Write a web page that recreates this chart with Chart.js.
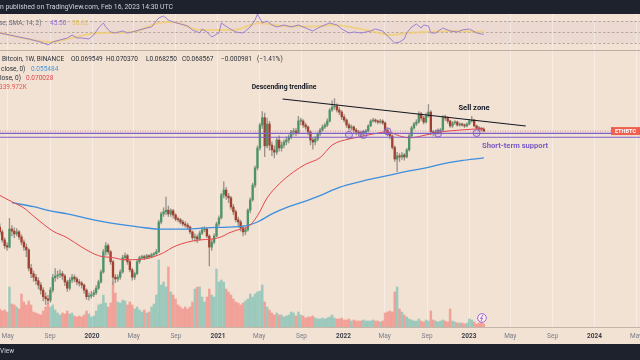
<!DOCTYPE html>
<html>
<head>
<meta charset="utf-8">
<script src="https://cdn.jsdelivr.net/npm/chart.js"></script>
<style>
  html, body { margin: 0; padding: 0; background: #1e222d; }
  canvas { display: block; }
</style>
</head>
<body>
<canvas id="chart" width="640" height="360"></canvas>
<script>

// ETH/BTC weekly candles, Binance, first week starting 2019-04-08
const weekStart = '2019-04-08';
const firstOpen = 0.0322;

const closes = [
  .0310, .0291, .0278, .0275, .0317, .0312, .0305, .0310, .0298, .0286,
  .0275, .0269, .0233, .0223, .0217, .0211, .0204, .0196, .0186, .0183,
  .0181, .0196, .0216, .0219, .0221, .0223, .0219, .0209, .0199, .0212,
  .0217, .0214, .0209, .0207, .0204, .0196, .0186, .0187, .0189, .0192,
  .0199, .0209, .0226, .0265, .0278, .0265, .0245, .0217, .0214, .0217,
  .0226, .0253, .0257, .0245, .0230, .0217, .0223, .0245, .0253, .0255,
  .0253, .0257, .0255, .0259, .0261, .0265, .0335, .0357, .0363, .0368,
  .0357, .0366, .0354, .0343, .0341, .0335, .0330, .0327, .0322, .0310,
  .0296, .0298, .0293, .0307, .0315, .0317, .0300, .0275, .0286, .0300,
  .0330, .0346, .0415, .0431, .0411, .0405, .0377, .0363, .0341, .0335,
  .0320, .0310, .0315, .0368, .0399, .0448, .0513, .0600, .0719, .0762,
  .0610, .0725, .0614, .0591, .0581, .0639, .0600, .0614, .0629, .0639,
  .0654, .0681, .0686, .0675, .0742, .0742, .0719, .0708, .0681, .0639,
  .0629, .0644, .0670, .0691, .0708, .0719, .0742, .0809, .0829, .0835,
  .0809, .0796, .0766, .0748, .0719, .0703, .0708, .0691, .0681, .0675,
  .0670, .0681, .0686, .0714, .0742, .0748, .0742, .0736, .0742, .0731,
  .0691, .0670, .0660, .0603, .0550, .0564, .0559, .0568, .0559, .0591,
  .0660, .0703, .0725, .0736, .0785, .0760, .0736, .0772, .0796, .0681,
  .0675, .0681, .0686, .0691, .0766, .0760, .0742, .0714, .0731, .0736,
  .0719, .0725, .0719, .0714, .0725, .0742, .0748, .0714, .0703, .0697,
  .069549, .068567
];

const highs = [
  .0330, .0315, .0296, .0285, .0345, .0326, .0320, .0318, .0314, .0303,
  .0291, .0282, .0272, .0240, .0228, .0222, .0216, .0208, .0200, .0192,
  .0188, .0200, .0222, .0232, .0228, .0230, .0227, .0222, .0212, .0216,
  .0222, .0221, .0217, .0213, .0210, .0206, .0198, .0192, .0194, .0196,
  .0203, .0212, .0230, .0270, .0285, .0282, .0268, .0248, .0222, .0221,
  .0230, .0258, .0263, .0260, .0248, .0233, .0226, .0248, .0256, .0258,
  .0258, .0260, .0259, .0262, .0264, .0270, .0340, .0362, .0375, .0408,
  .0380, .0372, .0370, .0358, .0348, .0345, .0340, .0336, .0332, .0325,
  .0312, .0305, .0302, .0312, .0322, .0323, .0320, .0303, .0292, .0305,
  .0335, .0352, .0420, .0460, .0440, .0420, .0410, .0385, .0368, .0348,
  .0340, .0325, .0322, .0372, .0405, .0455, .0520, .0610, .0730, .0800,
  .0790, .0760, .0740, .0630, .0610, .0650, .0660, .0630, .0640, .0655,
  .0665, .0690, .0700, .0700, .0770, .0760, .0750, .0730, .0715, .0690,
  .0650, .0655, .0680, .0700, .0720, .0730, .0755, .0820, .0870, .0885,
  .0850, .0825, .0805, .0780, .0755, .0730, .0720, .0715, .0700, .0690,
  .0685, .0690, .0695, .0722, .0750, .0758, .0755, .0748, .0752, .0750,
  .0738, .0698, .0678, .0665, .0610, .0580, .0575, .0580, .0575, .0598,
  .0668, .0712, .0735, .0750, .0800, .0795, .0770, .0790, .0845, .0805,
  .0690, .0692, .0698, .0700, .0775, .0778, .0768, .0748, .0740, .0745,
  .0742, .0732, .0730, .0725, .0732, .0752, .0770, .0752, .0720, .0712,
  .0706, .070370
];

const lows = [
  .0303, .0286, .0272, .0268, .0273, .0300, .0296, .0300, .0292, .0280,
  .0268, .0255, .0228, .0216, .0210, .0205, .0198, .0190, .0180, .0175,
  .0176, .0178, .0193, .0210, .0214, .0216, .0213, .0203, .0194, .0196,
  .0208, .0209, .0204, .0202, .0199, .0191, .0182, .0181, .0184, .0186,
  .0189, .0197, .0207, .0224, .0258, .0260, .0240, .0205, .0208, .0210,
  .0213, .0224, .0248, .0240, .0226, .0212, .0213, .0221, .0242, .0250,
  .0249, .0251, .0252, .0253, .0256, .0258, .0263, .0330, .0350, .0355,
  .0350, .0350, .0345, .0338, .0335, .0330, .0325, .0322, .0316, .0305,
  .0290, .0288, .0285, .0290, .0303, .0310, .0296, .0237, .0268, .0282,
  .0298, .0325, .0343, .0405, .0400, .0390, .0370, .0355, .0335, .0325,
  .0312, .0300, .0303, .0312, .0360, .0395, .0440, .0505, .0590, .0700,
  .0560, .0600, .0590, .0565, .0555, .0570, .0585, .0585, .0600, .0615,
  .0625, .0645, .0665, .0660, .0670, .0720, .0705, .0695, .0665, .0615,
  .0595, .0615, .0635, .0660, .0685, .0700, .0710, .0735, .0800, .0815,
  .0795, .0780, .0750, .0735, .0705, .0690, .0690, .0675, .0665, .0660,
  .0655, .0660, .0670, .0680, .0710, .0735, .0732, .0725, .0728, .0722,
  .0680, .0660, .0645, .0595, .0540, .0498, .0540, .0548, .0545, .0555,
  .0585, .0655, .0695, .0715, .0730, .0745, .0725, .0730, .0765, .0665,
  .0660, .0665, .0670, .0675, .0685, .0745, .0730, .0705, .0705, .0722,
  .0712, .0712, .0712, .0705, .0708, .0720, .0735, .0708, .0695, .0688,
  .0685, .068250
];

// weekly volume, thousands of ETH
const volumes = [
  1980, 1760, 1870, 1650, 4400, 2530, 2420, 2200, 1980, 3630,
  2750, 2420, 2860, 2420, 1650, 1540, 1430, 1320, 1760, 2200,
  2530, 2200, 2420, 1870, 1540, 1320, 1540, 1430, 1760, 1430,
  1540, 1210, 1100, 1210, 1100, 1320, 1760, 1430, 1100, 1210,
  1760, 2420, 2530, 3520, 2640, 2200, 2640, 4950, 3740, 2750,
  2640, 2970, 2860, 2420, 2750, 2420, 1980, 2200, 1870, 1650,
  1870, 1540, 1650, 2200, 2530, 3520, 7370, 4620, 4950, 4400,
  6600, 3850, 3520, 3080, 2420, 2200, 1980, 2200, 1980, 2200,
  2750, 4180, 4400, 4400, 3300, 2750, 3300, 4180, 3520, 3300,
  6380, 4950, 5170, 4950, 4180, 3850, 3520, 3080, 2750, 2640,
  2420, 2640, 2860, 3080, 3630, 3300, 3630, 3850, 3960, 4620,
  2750, 2200, 1870, 1540, 1320, 1540, 1320, 1320, 1100, 1210,
  1320, 1650, 1540, 1210, 1650, 1320, 1210, 990, 1100, 1100,
  1210, 990, 880, 880, 990, 880, 990, 1100, 1320, 990,
  880, 880, 990, 770, 770, 880, 660, 770, 660, 660,
  660, 770, 660, 660, 660, 770, 660, 660, 550, 660,
  1540, 1650, 1760, 1650, 3850, 4400, 1980, 1650, 1320, 1100,
  880, 770, 660, 660, 880, 660, 550, 770, 660, 1760,
  770, 660, 550, 660, 770, 660, 550, 1980, 660, 550,
  440, 440, 440, 330, 440, 880, 770, 550, 330, 440,
  550, 339.972
];

// moving averages, read at sparse weeks (week index from weekStart)
const ma50Weeks = [0, 5, 10, 14, 18, 22, 28, 34, 41, 47, 52, 55, 61, 64, 68, 72, 78, 83, 88, 92,
  95, 100, 103, 107, 111, 116, 122, 127, 133, 138, 145, 149, 155, 161, 166, 170, 177, 183, 191, 201];
const ma50 = [.0413, .0393, .0374, .0351, .0330, .0312, .0296, .0275, .0257, .0253, .0249, .0249, .0251, .0255, .0263, .0275, .0286, .0291, .0293, .0298,
  .0307, .0317, .0322, .0352, .0405, .0452, .0497, .0528, .0556, .0614, .0644, .0654, .0670, .0681, .0660, .0650, .0665, .0681, .0691, .070028];

const ma200Weeks = [5, 14, 21, 28, 34, 41, 52, 58, 66, 78, 86, 95, 102, 107, 113, 120, 127, 134, 141, 151,
  156, 163, 170, 177, 184, 191, 201];
const ma200 = [.0390, .0378, .0366, .0357, .0348, .0338, .0327, .0322, .0317, .0317, .0320, .0322, .0325, .0335, .0357, .0378, .0395, .0416, .0440, .0463,
  .0473, .0487, .0501, .0513, .0530, .0542, .055484];

// RSI 14 and its SMA
const rsiWeeks = [0, 4, 8, 12, 17, 20, 22, 25, 28, 30, 32, 34, 37, 39, 41, 43, 44, 46, 48, 51,
  53, 55, 58, 61, 63, 66, 68, 70, 72, 75, 78, 80, 83, 84, 86, 88, 91, 92, 95, 98,
  101, 104, 106, 107, 109, 111, 113, 115, 118, 121, 124, 127, 130, 133, 137, 140, 142, 145, 147, 150,
  154, 156, 159, 161, 164, 166, 168, 169, 171, 173, 175, 176, 178, 179, 181, 184, 187, 190, 192, 195,
  198, 201];
const rsi = [48.2, 44.5, 40.9, 37.3, 31.8, 26.4, 31.8, 35.5, 39.1, 44.5, 39.1, 39.1, 37.3, 44.5, 57.3, 66.4, 59.1, 50, 48.2, 51.8,
  48.2, 50, 53.6, 57.3, 59.1, 75.5, 79.1, 71.8, 68.2, 64.5, 60.9, 53.6, 48.2, 55.5, 50, 40.9, 48.2, 66.4, 57.3, 50,
  48.2, 59.1, 71.8, 82.7, 66.4, 70, 62.7, 59.1, 62.7, 59.1, 62.7, 57.3, 51.8, 59.1, 66.4, 62.7, 55.5, 48.2, 50, 48.2,
  51.8, 55.5, 51.8, 42.7, 30, 31.8, 37.3, 48.2, 59.1, 64.5, 57.3, 62.7, 60.9, 48.2, 48.2, 57.3, 51.8, 50, 53.6, 55.5,
  48.2, 45.50];
const rsiSmaWeeks = [0, 21, 28, 41, 55, 66, 72, 83, 97, 108, 117, 131, 138, 152, 163, 169, 177, 187, 201];
const rsiSma = [48.2, 31.8, 37.3, 48.2, 50, 66.4, 68.2, 53.6, 53.6, 66.4, 60.9, 60, 62.7, 53.6, 44.5, 48.2, 50, 51.8, 50.62];
const rsiLevels = [70, 50, 30];

// drawings
const trendDates = ['2021-07-08', '2023-06-15'];
const trendPrices = [0.0883, 0.0714];
const supportPrices = [0.0673, 0.0653];
const circleWeeks = [145, 151, 161, 182, 198];
const circlePrices = [0.0665, 0.0665, 0.0684, 0.0672, 0.0675];

// time axis
const tickDates = ['2019-05-01', '2019-09-01', '2020-01-01', '2020-05-01', '2020-09-01', '2021-01-01', '2021-05-01', '2021-09-01',
  '2022-01-01', '2022-05-01', '2022-09-01', '2023-01-01', '2023-05-01', '2023-09-01', '2024-01-01', '2024-05-01'];
const tickLabels = ['May', 'Sep', '2020', 'May', 'Sep', '2021', 'May', 'Sep', '2022', 'May', 'Sep', '2023', 'May', 'Sep', '2024', 'May'];

const WEEK = 7 * 86400000;
const t0 = Date.parse(weekStart + 'T00:00:00Z');
const wt = w => t0 + w * WEEK;
const day = s => Date.parse(s + 'T00:00:00Z');

const opens = closes.map((c, i) => i === 0 ? firstOpen : closes[i - 1]); // weekly open = prior close
const up = closes.map((c, i) => c >= opens[i]);
const lastClose = closes[closes.length - 1];

const xMin = Date.parse('2019-04-08T12:00:00Z');
const xMax = Date.parse('2024-05-12T02:00:00Z');

Chart.defaults.font.family = "Roboto, 'Liberation Sans', sans-serif";

const decor = {
  id: 'decor',
  beforeDraw(chart) {
    const {ctx, scales} = chart;
    ctx.save();
    ctx.fillStyle = '#f2e2d3';
    ctx.fillRect(0, 0, 640, 360);
    const yr = scales.yr;
    const a = yr.getPixelForValue(rsiLevels[0]), b = yr.getPixelForValue(rsiLevels[2]);
    ctx.fillStyle = 'rgba(149,117,205,0.08)';
    ctx.fillRect(0, a, 640, b - a);
    ctx.fillStyle = '#1e222d';
    ctx.fillRect(0, 0, 640, 14);
    ctx.fillRect(0, 344, 640, 16);
    ctx.restore();
  },
  beforeDatasetsDraw(chart) {
    const {ctx, scales} = chart;
    ctx.save();
    ctx.strokeStyle = '#a89d94';
    ctx.lineWidth = 0.8;
    ctx.setLineDash([2.5, 2]);
    rsiLevels.forEach(v => {
      const y = Math.round(scales.yr.getPixelForValue(v)) + 0.5;
      ctx.beginPath(); ctx.moveTo(0, y); ctx.lineTo(640, y); ctx.stroke();
    });
    ctx.setLineDash([]);
    ctx.strokeStyle = '#bcaea2';
    ctx.lineWidth = 1;
    ctx.beginPath(); ctx.moveTo(0, 50.5); ctx.lineTo(640, 50.5); ctx.stroke();
    ctx.restore();
  },
  afterDraw(chart) {
    const {ctx, scales} = chart;
    ctx.save();
    ctx.textBaseline = 'middle';
    const txt = (s, x, y, color, font, align) => {
      ctx.font = font; ctx.fillStyle = color; ctx.textAlign = align || 'left';
      ctx.fillText(s, x, y);
    };
    const f = '6.5px Roboto, sans-serif';
    txt('n published on TradingView.com, Feb 16, 2023 14:30 UTC', 0, 7.5, '#d1d4dc', '6.8px Roboto, sans-serif');
    txt('View', 0, 351, '#d1d4dc', '6.5px Roboto, sans-serif');

    txt('se, SMA, 14, 2)', -1, 23, '#6a6d78', f);
    txt('45.50', 50, 23, '#8e6fd1', f);
    txt('50.62', 72, 23, '#e3bf55', f);

    txt('Bitcoin, 1W, BINANCE', 2, 59, '#2a2e39', f);
    txt('O0.069549', 71, 59, '#2a2e39', f);
    txt('H0.070370', 106, 59, '#2a2e39', f);
    txt('L0.068250', 146, 59, '#2a2e39', f);
    txt('C0.068567', 182, 59, '#2a2e39', f);
    txt('\u22120.000981', 221, 59, '#2a2e39', f);
    txt('(\u22121.41%)', 257, 59, '#2a2e39', f);
    txt('close, 0)', 1, 69, '#2a2e39', f);
    txt('0.055484', 31, 69, '#4a97db', f);
    txt('lose, 0)', 0, 78, '#2a2e39', f);
    txt('0.070028', 26, 78, '#e0474c', f);
    txt('339.972K', -1, 87, '#e05a50', f);

    txt('Descending trendline', 284, 87, '#131722', 'bold 6.8px Roboto, sans-serif', 'center');
    txt('Sell zone', 474, 108, '#131722', 'bold 7.6px Roboto, sans-serif', 'center');
    txt('Short-term support', 482, 146, '#7a5bc4', 'bold 7.6px Roboto, sans-serif');

    // last price label
    const py = scales.yp.getPixelForValue(lastClose);
    ctx.fillStyle = '#ef5f4f';
    ctx.fillRect(611, py - 4, 29, 8);
    txt('ETHBTC', 625.5, py + 0.3, '#ffffff', 'bold 5.6px Roboto, sans-serif', 'center');

    // lightning badge
    ctx.beginPath(); ctx.arc(482, 318, 4.3, 0, Math.PI * 2);
    ctx.fillStyle = 'rgba(255,255,255,0.7)'; ctx.fill();
    ctx.strokeStyle = '#9a4fd0'; ctx.lineWidth = 0.9; ctx.stroke();
    ctx.beginPath(); ctx.moveTo(483, 315); ctx.lineTo(480.5, 318.5); ctx.lineTo(482.5, 318.2); ctx.lineTo(481, 321);
    ctx.stroke();
    ctx.restore();
  }
};

const candleUp = '#4d9468', candleDown = '#a2402f';
const line = (label, axis, data, color, width, extra) => Object.assign({
  type: 'line', label, yAxisID: axis, data, borderColor: color, borderWidth: width,
  pointRadius: 0, fill: false, tension: 0
}, extra || {});

new Chart(document.getElementById('chart'), {
  type: 'bar',
  data: {
    datasets: [
      line('RSI SMA', 'yr', rsiSmaWeeks.map((w, i) => ({x: wt(w), y: rsiSma[i]})), 'rgba(240,205,110,0.75)', 2, {order: 2, cubicInterpolationMode: 'monotone'}),
      line('RSI', 'yr', rsiWeeks.map((w, i) => ({x: wt(w), y: rsi[i]})), '#9478cf', 0.9, {order: 1}),
      {
        type: 'bar', label: 'Volume', yAxisID: 'yv', order: 20, grouped: false,
        data: volumes.map((v, i) => ({x: wt(i), y: v})),
        backgroundColor: up.map(u => u ? 'rgba(38,166,154,0.42)' : 'rgba(239,83,80,0.45)'),
        barThickness: 1.8
      },
      {
        type: 'bar', label: 'Wicks', yAxisID: 'yp', order: 12, grouped: false,
        data: highs.map((h, i) => ({x: wt(i), y: [lows[i], h]})),
        backgroundColor: '#9a938c', barThickness: 0.7
      },
      {
        type: 'bar', label: 'ETHBTC', yAxisID: 'yp', order: 10, grouped: false,
        data: closes.map((c, i) => ({x: wt(i), y: [opens[i], c]})),
        backgroundColor: up.map(u => u ? candleUp : candleDown),
        barThickness: 1.7, minBarLength: 1
      },
      line('MA 200', 'yp', ma200Weeks.map((w, i) => ({x: wt(w), y: ma200[i]})), '#3d8ede', 1.3, {order: 6, cubicInterpolationMode: 'monotone'}),
      line('MA 50', 'yp', ma50Weeks.map((w, i) => ({x: wt(w), y: ma50[i]})), '#e5474d', 1, {order: 5, cubicInterpolationMode: 'monotone'}),
      line('Price line', 'yp', [{x: xMin, y: lastClose}, {x: xMax, y: lastClose}], 'rgba(200,90,140,0.8)', 0.8, {order: 4, borderDash: [1, 1.5]}),
      line('Support top', 'yp', [{x: xMin, y: supportPrices[0]}, {x: xMax, y: supportPrices[0]}], '#7e5fc6', 1.3, {order: 4}),
      line('Support bottom', 'yp', [{x: xMin, y: supportPrices[1]}, {x: xMax, y: supportPrices[1]}], '#7e5fc6', 1, {order: 4}),
      line('Trendline', 'yp', trendDates.map((d, i) => ({x: day(d), y: trendPrices[i]})), '#131722', 1.1, {order: 3}),
      line('Touches', 'yp', circleWeeks.map((w, i) => ({x: wt(w), y: circlePrices[i]})), '#7e5fc6', 1, {
        order: 2, showLine: false, pointRadius: 3.5, pointBorderWidth: 0.9,
        pointBorderColor: '#7e5fc6', pointBackgroundColor: 'rgba(126,95,198,0.15)'
      })
    ]
  },
  options: {
    responsive: false,
    devicePixelRatio: 1,
    animation: false,
    events: [],
    layout: {autoPadding: false, padding: {top: 14, bottom: 16, left: 0, right: 0}},
    plugins: {legend: {display: false}, tooltip: {enabled: false}},
    scales: {
      x: {
        type: 'linear', min: xMin, max: xMax, offset: false,
        grid: {color: 'rgba(255,255,255,0.38)', drawTicks: false, offset: false},
        border: {color: '#c3b6a9'},
        ticks: {
          autoSkip: false, maxRotation: 0, padding: 5,
          callback: (v, i) => tickLabels[i],
          font: c => ({size: 6.5, weight: /^\d{4}$/.test(tickLabels[c.index]) ? 'bold' : 'normal'}),
          color: c => /^\d{4}$/.test(tickLabels[c.index]) ? '#3a3e49' : '#7b7e88'
        },
        afterBuildTicks: s => { s.ticks = tickDates.map(d => ({value: day(d)})); },
        afterFit: s => { s.height = 17; s.paddingLeft = 0; s.paddingRight = 0; }
      },
      yp: {type: 'logarithmic', display: false, min: 0.014658, max: 0.17236, bounds: 'data'},
      yr: {type: 'linear', display: false, min: -486.4, max: 82.7, bounds: 'data'},
      yv: {type: 'linear', display: false, min: 0, max: 34430, bounds: 'data'}
    }
  },
  plugins: [decor]
});
</script>
</body>
</html>
